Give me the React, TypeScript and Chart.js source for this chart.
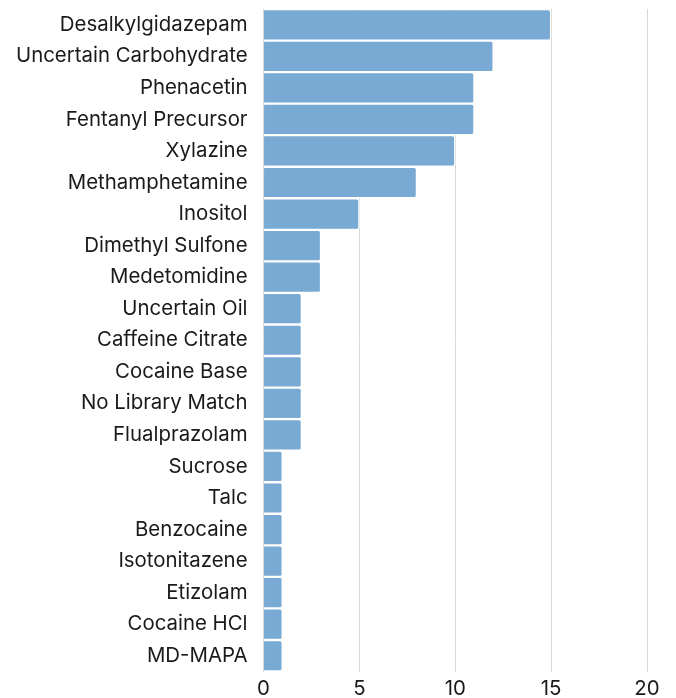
import React, { useEffect, useRef } from "react";
import { Chart, registerables } from "chart.js";

Chart.register(...registerables);

const categories: string[] = [
  "Desalkylgidazepam",
  "Uncertain Carbohydrate",
  "Phenacetin",
  "Fentanyl Precursor",
  "Xylazine",
  "Methamphetamine",
  "Inositol",
  "Dimethyl Sulfone",
  "Medetomidine",
  "Uncertain Oil",
  "Caffeine Citrate",
  "Cocaine Base",
  "No Library Match",
  "Flualprazolam",
  "Sucrose",
  "Talc",
  "Benzocaine",
  "Isotonitazene",
  "Etizolam",
  "Cocaine HCl",
  "MD-MAPA",
];

const counts: number[] = [15, 12, 11, 11, 10, 8, 5, 3, 3, 2, 2, 2, 2, 2, 1, 1, 1, 1, 1, 1, 1];

const xTicks: number[] = [0, 5, 10, 15, 20];

const FONT = "Inter, 'DejaVu Sans', sans-serif";

export default function App() {
  const ref = useRef<HTMLCanvasElement | null>(null);
  useEffect(() => {
    if (!ref.current) return;
    const chart = new Chart(ref.current, {
      type: "bar",
      data: {
        labels: categories,
        datasets: [
          {
            data: counts,
            backgroundColor: "#79aad3",
            borderColor: "#ffffff",
            borderWidth: 1.5,
            borderRadius: 3,
            borderSkipped: "start",
            barPercentage: 1,
            categoryPercentage: 1,
          },
        ],
      },
      options: {
        indexAxis: "y",
        animation: false,
        responsive: true,
        maintainAspectRatio: false,
        layout: { padding: { top: 1, right: 21, bottom: 0, left: 0 } },
        plugins: { legend: { display: false }, tooltip: { enabled: false } },
        scales: {
          x: {
            min: 0,
            max: 20,
            afterBuildTicks: (axis: any) => {
              axis.ticks = xTicks.map((v) => ({ value: v }));
            },
            grid: { color: "#d9d9d9", drawTicks: false, lineWidth: 1 },
            border: { display: false },
            ticks: { color: "#1a1a1a", font: { family: FONT, size: 20.4 }, padding: 5 },
          },
          y: {
            afterFit: (scale: any) => {
              scale.paddingTop = 0;
              scale.paddingBottom = 0;
            },
            grid: { display: false },
            border: { display: false },
            ticks: { color: "#1a1a1a", font: { family: FONT, size: 20.4 }, padding: 8, autoSkip: false },
          },
        },
      },
    });
    return () => chart.destroy();
  }, []);
  return (
    <div style={{ width: 660, height: 698 }}>
      <canvas ref={ref} />
    </div>
  );
}
